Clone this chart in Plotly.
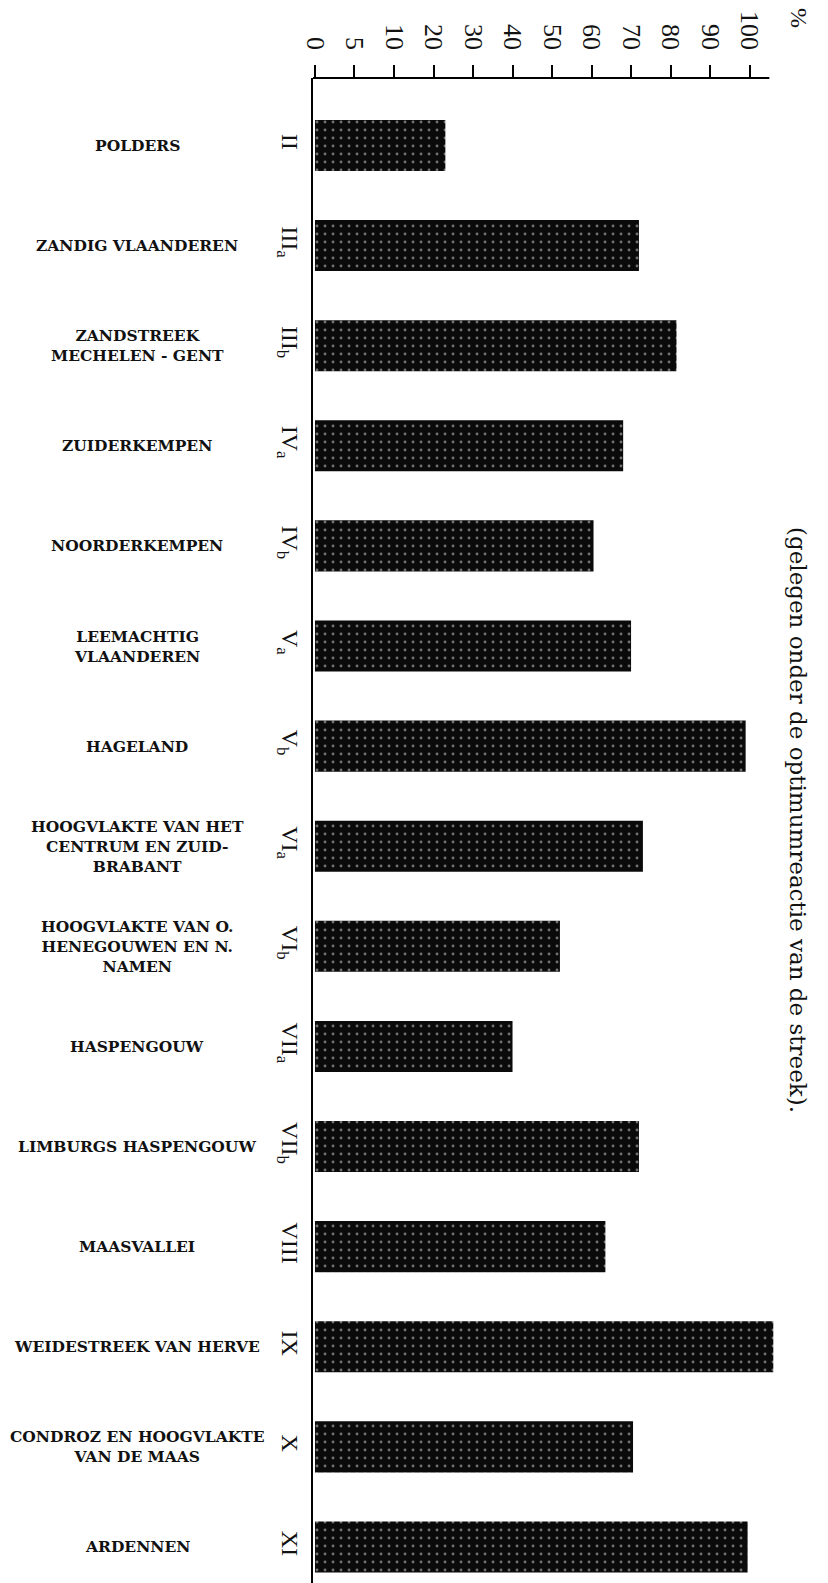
import plotly.graph_objects as go

# ---- data -------------------------------------------------------------
codes = ["II", "IIIa", "IIIb", "IVa", "IVb", "Va", "Vb", "VIa", "VIb",
         "VIIa", "VIIb", "VIII", "IX", "X", "XI"]
code_labels = ["II", "III<sub>a</sub>", "III<sub>b</sub>", "IV<sub>a</sub>", "IV<sub>b</sub>",
               "V<sub>a</sub>", "V<sub>b</sub>", "VI<sub>a</sub>", "VI<sub>b</sub>",
               "VII<sub>a</sub>", "VII<sub>b</sub>", "VIII", "IX", "X", "XI"]
regions = ["POLDERS", "ZANDIG VLAANDEREN", "ZANDSTREEK<br>MECHELEN - GENT",
           "ZUIDERKEMPEN", "NOORDERKEMPEN", "LEEMACHTIG<br>VLAANDEREN", "HAGELAND",
           "HOOGVLAKTE VAN HET<br>CENTRUM EN ZUID-<br>BRABANT",
           "HOOGVLAKTE VAN O.<br>HENEGOUWEN EN N.<br>NAMEN",
           "HASPENGOUW", "LIMBURGS HASPENGOUW", "MAASVALLEI",
           "WEIDESTREEK VAN HERVE", "CONDROZ EN HOOGVLAKTE<br>VAN DE MAAS", "ARDENNEN"]
percent = [23, 72, 81.5, 68, 60.5, 70, 99, 73, 52, 40, 72, 63.5, 106, 70.5, 99.5]
tick_values = [0, 5, 10, 20, 30, 40, 50, 60, 70, 80, 90, 100]
tick_labels = ["0", "5", "10", "20", "30", "40", "50", "60", "70", "80", "90", "100"]


# The printed scale spaces its ticks evenly although their labels are
# 0, 5, 10, 20 ... 100; map a percentage onto that printed scale.
def to_scale(v):
    if v <= 10:
        return v / 5.0
    return v / 10.0 + 1.0


tick_pos = [to_scale(t) for t in tick_values]
bar_x = [to_scale(v) for v in percent]

# ---- layout constants (page has an 8px body margin) ---------------------
W, H = 820, 1575
L, T, B = 305, 70, 0
plot_w = 484
R = W - L - plot_w
plot_h = H - T - B
serif = "DejaVu Serif"


def px_x(px):
    return (px - L) / plot_w


def px_y(py):
    return 1 - (py - T) / plot_h


fig = go.Figure()
fig.add_trace(go.Bar(
    x=bar_x, y=codes, orientation="h", width=0.51,
    marker=dict(color="#0a0a0a", line=dict(width=0),
                pattern=dict(shape=".", fgcolor="#d8d8d8", bgcolor="#0a0a0a",
                             size=8, solidity=0.1)),
    hoverinfo="skip", showlegend=False,
))

annotations = []
for code, name in zip(codes, regions):
    annotations.append(dict(
        x=px_x(129), xref="paper", y=code, yref="y",
        text=name, showarrow=False, align="center", xanchor="center", yanchor="middle",
        font=dict(family=serif, size=15.5, color="#111", weight="bold"),
    ))

annotations.append(dict(
    x=px_x(790), xref="paper", y=px_y(812), yref="paper",
    text="(gelegen onder de optimumreactie van de streek).", showarrow=False,
    textangle=90, xanchor="center", yanchor="middle",
    font=dict(family=serif, size=23, color="#111"),
))
annotations.append(dict(
    x=px_x(791), xref="paper", y=px_y(10), yref="paper",
    text="%", showarrow=False, textangle=90, xanchor="center", yanchor="middle",
    font=dict(family="Liberation Serif", size=24, color="#111"),
))

fig.update_layout(
    width=W, height=H,
    margin=dict(l=L, r=R, t=T, b=B, pad=0),
    paper_bgcolor="white", plot_bgcolor="white",
    annotations=annotations,
    shapes=[dict(type="line", xref="x", yref="paper", x0=-0.05, x1=11.5, y0=1, y1=1,
                 line=dict(color="black", width=2))],
    xaxis=dict(
        side="top", range=[-0.05, 12.2], showgrid=False, zeroline=False,
        showline=False, tickmode="array", tickvals=tick_pos, ticktext=tick_labels,
        ticks="outside", ticklen=12, tickwidth=2, tickcolor="black",
        tickangle=90, ticklabelstandoff=6,
        tickfont=dict(family="Liberation Serif", size=26, color="#111"),
        automargin=False, fixedrange=True,
    ),
    yaxis=dict(
        type="category", autorange=False, range=[14.36, -0.674],
        categoryorder="array", categoryarray=codes,
        tickmode="array", tickvals=codes, ticktext=code_labels,
        showgrid=False, zeroline=False, showline=True, linecolor="black", linewidth=2,
        ticks="", tickangle=90, ticklabelstandoff=0,
        tickfont=dict(family="Liberation Serif", size=24, color="#111"),
        automargin=False, fixedrange=True,
    ),
)

fig.write_html("out.html")
